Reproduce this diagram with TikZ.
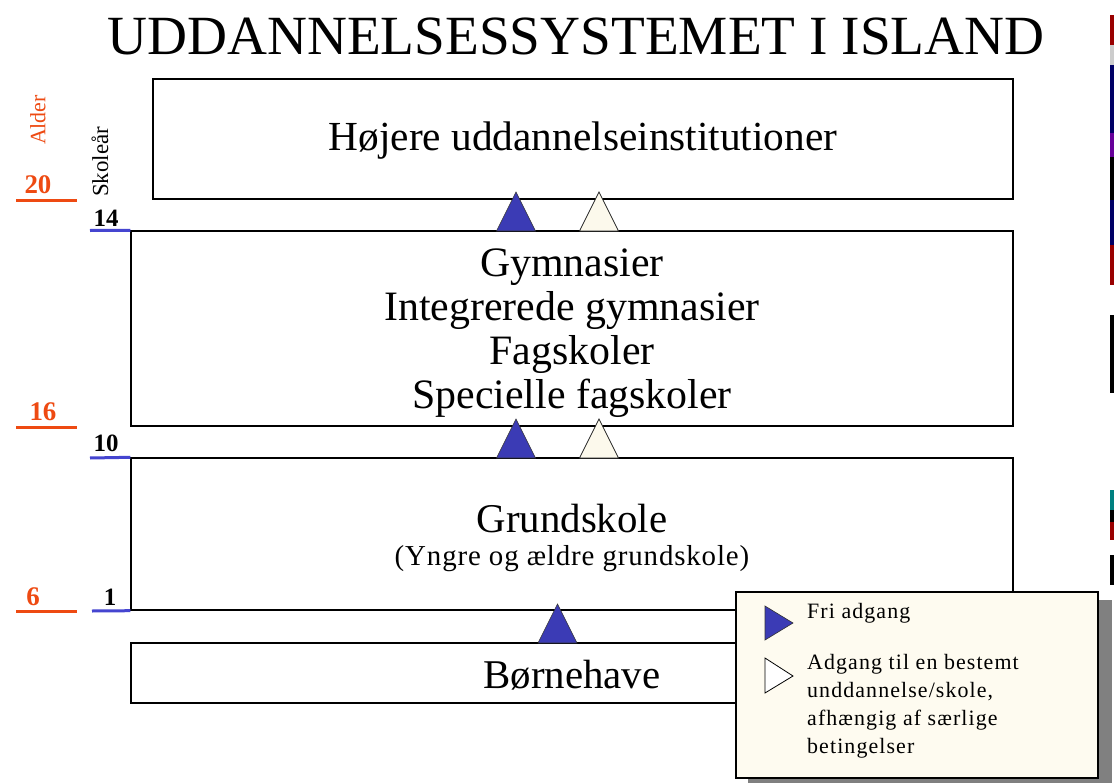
\documentclass[tikz,border=0pt]{standalone}
\usepackage{fontspec}
\setmainfont{Liberation Serif}
\newfontfamily\legfont[LetterSpace=5]{Liberation Serif}
\newfontfamily\subfont[LetterSpace=3]{Liberation Serif}
\definecolor{orng}{HTML}{EE4A12}
\definecolor{tblue}{HTML}{3B3BB5}
\definecolor{lblue}{HTML}{4545D0}
\definecolor{cream}{HTML}{FCF9EC}
\definecolor{lcream}{HTML}{FEFBF0}
\newcommand\fs[2]{\fontsize{#1}{#2}\selectfont}
\tikzset{
  box/.style={draw=black, line width=1.4bp, inner sep=0pt},
  btxt/.style={font=\fs{41}{44}, align=center},
  uptri/.pic={\path[pic actions] (-19.5,0) -- (0,-39) -- (19.5,0) -- cycle;},
  freetri/.style={fill=tblue, draw=black!80, line width=0.6bp},
  condtri/.style={fill=cream, draw=black!85, line width=0.8bp},
  agelab/.style={text=orng, font=\fs{27}{27}\bfseries, inner sep=0pt},
  yrlab/.style={text=black, font=\fs{25}{25}\bfseries, inner sep=0pt},
  ageline/.style={draw=orng, line width=3bp},
  yrline/.style={draw=lblue, line width=3bp},
}
\begin{document}
\begin{tikzpicture}[x=1bp, y=-1bp]
\useasboundingbox (0,0) rectangle (1114,783);
\fill[white] (0,0) rectangle (1114,783);
% title
\node[font=\fs{55.5}{56}, inner sep=0pt] (title) at (576,36) {UDDANNELSESSYSTEMET I ISLAND};
% boxes
\node[box, minimum width=860bp, minimum height=120bp] (hoj) at (583,139) {};
\node[btxt, font=\fs{41.5}{44}] (hojt) at (583,141) {Højere uddannelseinstitutioner};
\node[box, minimum width=882bp, minimum height=195bp] (gym) at (572,328.5) {};
\node[btxt, font=\fs{42}{44}] (gymt) at (572,333) {Gymnasier\\Integrerede gymnasier\\Fagskoler\\Specielle fagskoler};
\node[box, minimum width=882bp, minimum height=152bp] (grund) at (572,534) {};
\node[btxt] (grundt) at (572,519) {Grundskole};
\node[font=\subfont\fs{29}{29}] (grundsub) at (572,559) {(Yngre og ældre grundskole)};
\node[box, minimum width=882bp, minimum height=60bp] (born) at (572,673) {};
\node[btxt] (bornt) at (572,675) {Børnehave};
% triangles
\pic[freetri] at (516,231) {uptri};
\pic[condtri] at (599,231) {uptri};
\pic[freetri] at (516,458) {uptri};
\pic[condtri] at (599,458) {uptri};
\pic[freetri] at (557.5,643) {uptri};
% left scale
\node[text=orng, font=\fs{22}{22}, rotate=90, inner sep=0pt] (alder) at (38,120) {Alder};
\node[text=black, font=\fs{23}{23}, rotate=90, inner sep=0pt] (skole) at (100,162) {Skoleår};
\node[agelab] (a20) at (38,185) {20};
\node[agelab] (a16) at (43,412) {16};
\node[agelab] (a6) at (33,597) {6};
\node[yrlab] (y14) at (106,218) {14};
\node[yrlab] (y10) at (106,443) {10};
\node[yrlab] (y1) at (110,597) {1};
\coordinate (o20a) at (16,200); \coordinate (o20b) at (77,200);
\coordinate (o16a) at (16,427); \coordinate (o16b) at (77,427);
\coordinate (o6a) at (16,611); \coordinate (o6b) at (77,611);
\draw[ageline] (o20a) -- (o20b);
\draw[ageline] (o16a) -- (o16b);
\draw[ageline] (o6a) -- (o6b);
\draw[yrline] (90,230.5) -- (gym.north west);
\draw[yrline] (90,458) -- (grund.north west);
\draw[yrline] (92,611) -- (grund.south west);
% legend
\fill[black!50] (748,600) rectangle (1112,790);
\node[draw=black, line width=1.6bp, fill=lcream, minimum width=362bp, minimum height=186bp, inner sep=0pt] (leg) at (917,685) {};
\fill[tblue, draw=black!80, line width=0.6bp] (765,606) -- (793,623) -- (765,640) -- cycle;
\fill[white, draw=black, line width=0.8bp] (765,658) -- (793,676) -- (765,693) -- cycle;
\node[anchor=west, font=\legfont\fs{22}{28}, inner sep=0pt] (free) at (807,613) {Fri adgang};
\node[anchor=north west, font=\legfont\fs{22}{28}, align=left, inner sep=0pt] (cond) at (807,654) {Adgang til en bestemt\\unddannelse/skole,\\afhængig af særlige\\betingelser};
% right edge bars
\fill[red!60!black] (1110,15) rectangle (1114,45);
\fill[black!20] (1110,45) rectangle (1114,65);
\fill[blue!40!black] (1110,65) rectangle (1114,133);
\fill[violet!80!blue] (1110,133) rectangle (1114,157);
\fill[black] (1110,157) rectangle (1114,200);
\fill[blue!40!black] (1110,200) rectangle (1114,245);
\fill[red!60!black] (1110,245) rectangle (1114,285);
\fill[black] (1110,315) rectangle (1114,393);
\fill[teal] (1110,490) rectangle (1114,510);
\fill[black] (1110,510) rectangle (1114,522);
\fill[red!60!black] (1110,522) rectangle (1114,540);
\fill[black] (1110,555) rectangle (1114,585);
\end{tikzpicture}
\end{document}
